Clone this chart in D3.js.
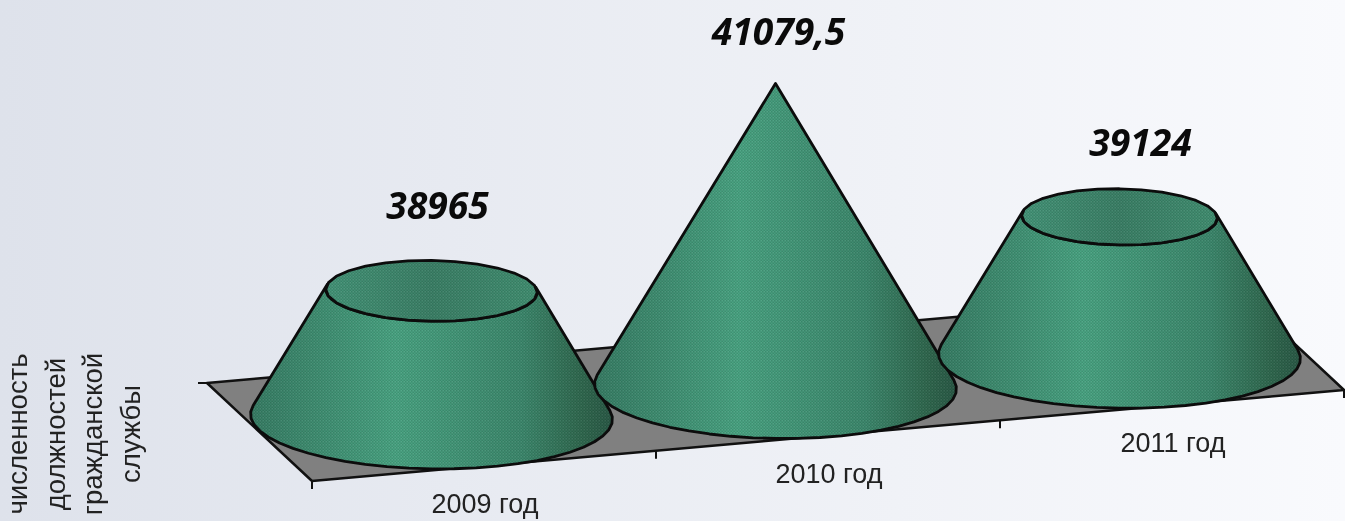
<!DOCTYPE html>
<html>
<head>
<meta charset="utf-8">
<script src="https://cdn.jsdelivr.net/npm/d3@7"></script>
<style>
  html, body { margin: 0; padding: 0; overflow: hidden; }
  svg { display: block; filter: blur(0.4px); }
</style>
</head>
<body>
<div id="chart"></div>
<script>
const categories = ["2009 год", "2010 год", "2011 год"];
const values = [38965, 41079.5, 39124];
const valueLabels = ["38965", "41079,5", "39124"];
const axisTitle = ["численность", "должностей", "гражданской", "службы"];

const width = 1345, height = 521;
const coneRx = 181, coneRy = 52;

// front edge of the floor and the direction going back into the picture
const front = { x0: 312, y0: 481, x1: 1344, y1: 390 };
const depth = { dx: -105, dy: -98 };

const x = d3.scaleBand().domain(categories).range([0, front.x1 - front.x0]);
// every cone runs from the axis minimum up to an apex at the axis maximum, lower values get cut off
const y = d3.scaleLinear().domain([37460, d3.max(values)]).range([0, 303]);

function project(u, d) {
    const t = u / (front.x1 - front.x0);
    return [
        front.x0 + (front.x1 - front.x0) * t + depth.dx * d,
        front.y0 + (front.y1 - front.y0) * t + depth.dy * d
    ];
}

const svg = d3.select("#chart").append("svg")
    .attr("width", width)
    .attr("height", height);

const defs = svg.append("defs");

function addGradient(id, stops) {
    const g = defs.append("linearGradient").attr("id", id);
    stops.forEach(s => g.append("stop").attr("offset", s[0]).attr("stop-color", s[1]));
}

addGradient("bg", [[0, "#dee2eb"], [1, "#f9fafd"]]);
addGradient("side", [[0, "#387f66"], [0.4, "#4aa684"], [0.75, "#3d8a6e"], [0.92, "#30694f"], [1, "#2a5a47"]]);
addGradient("cap", [[0, "#45977a"], [0.5, "#3c8268"], [1, "#429173"]]);

// the fine dotted screen on the cones
const dots = defs.append("pattern")
    .attr("id", "dots")
    .attr("width", 3)
    .attr("height", 3)
    .attr("patternUnits", "userSpaceOnUse");
dots.append("rect").attr("width", 1.5).attr("height", 1.5).attr("fill", "#000").attr("opacity", 0.13);
dots.append("rect").attr("x", 1.5).attr("y", 1.5).attr("width", 1.5).attr("height", 1.5).attr("fill", "#000").attr("opacity", 0.13);
dots.append("rect").attr("x", 1.5).attr("width", 1.5).attr("height", 1.5).attr("fill", "#fff").attr("opacity", 0.05);

svg.append("rect")
    .attr("width", width)
    .attr("height", height)
    .attr("fill", "url(#bg)");

// floor
const corners = [
    project(0, 0),
    project(x.range()[1], 0),
    project(x.range()[1], 1),
    project(0, 1)
];
svg.append("path")
    .attr("d", d3.line()(corners) + "Z")
    .attr("fill", "#808080")
    .attr("stroke", "#111")
    .attr("stroke-width", 2.5)
    .attr("stroke-linejoin", "round");

// ticks
const tickPos = categories.map(c => x(c)).concat([x.range()[1]]);
svg.selectAll(".tick")
    .data(tickPos)
    .enter().append("line")
    .attr("class", "tick")
    .attr("x1", d => project(d, 0)[0])
    .attr("x2", d => project(d, 0)[0])
    .attr("y1", d => project(d, 0)[1])
    .attr("y2", d => project(d, 0)[1] + 8)
    .attr("stroke", "#111")
    .attr("stroke-width", 2);
svg.append("line")
    .attr("x1", corners[3][0] - 9)
    .attr("x2", corners[3][0])
    .attr("y1", corners[3][1])
    .attr("y2", corners[3][1])
    .attr("stroke", "#111")
    .attr("stroke-width", 2);

// ellipse arc, slightly tilted like the floor plane in the picture
function arc(cx, cy, rx, ry, a0, a1, n) {
    return d3.range(n + 1).map(i => {
        const a = a0 + (a1 - a0) * i / n;
        return [cx + rx * Math.cos(a), cy + ry * Math.sin(a) + 0.014 * rx * Math.cos(a)];
    });
}

const line = d3.line();
const fullH = y.range()[1];
const tangent = Math.asin(coneRy / fullH);

const cones = svg.selectAll(".cone")
    .data(categories.map((c, i) => ({ c: c, v: values[i], label: valueLabels[i] })))
    .enter().append("g")
    .attr("class", "cone");

cones.each(function (d) {
    const g = d3.select(this);
    const [cx, cy] = project(x(d.c) + x.bandwidth() / 2, 0.5);
    const h = y(d.v);
    const k = 1 - h / fullH;
    const topY = cy - h;

    const base = arc(cx, cy, coneRx, coneRy, -tangent, Math.PI + tangent, 28);
    const top = arc(cx, topY, coneRx * k, coneRy * k, Math.PI + tangent, -tangent, 28);
    const side = line(base.concat(top)) + "Z";

    g.append("path").attr("d", side).attr("fill", "url(#side)");
    g.append("path").attr("d", side).attr("fill", "url(#dots)")
        .attr("stroke", "#0c0c0c").attr("stroke-width", 2.8).attr("stroke-linejoin", "round");

    if (k > 0.01) {
        const cap = line(arc(cx, topY, coneRx * k, coneRy * k, 0, 2 * Math.PI, 28)) + "Z";
        g.append("path").attr("d", cap).attr("fill", "url(#cap)");
        g.append("path").attr("d", cap).attr("fill", "url(#dots)")
            .attr("stroke", "#0c0c0c").attr("stroke-width", 2.8).attr("stroke-linejoin", "round");
    }
});

// value labels sit a little off the cone tops
const labelNudge = [[6, -41], [3, -39], [21, -33]];
cones.append("text")
    .attr("transform", (d, i) => {
        const [cx, cy] = project(x(d.c) + x.bandwidth() / 2, 0.5);
        const h = y(d.v);
        const ly = cy - h - coneRy * (1 - h / fullH) + labelNudge[i][1];
        return "translate(" + (cx + labelNudge[i][0]) + "," + ly + ") scale(0.98,1)";
    })
    .attr("text-anchor", "middle")
    .style("font-family", "'Open Sans', sans-serif")
    .style("font-weight", 700)
    .style("font-style", "italic")
    .style("font-size", "38px")
    .attr("fill", "#0a0a0a")
    .text(d => d.label);

// category labels
svg.selectAll(".cat")
    .data(categories)
    .enter().append("text")
    .attr("class", "cat")
    .attr("x", d => project(x(d) + x.bandwidth() / 2, 0)[0] + 1)
    .attr("y", d => project(x(d) + x.bandwidth() / 2, 0)[1] + 47)
    .attr("text-anchor", "middle")
    .style("font-family", "'Liberation Sans', Arial, sans-serif")
    .style("font-size", "27px")
    .attr("fill", "#222")
    .text(d => d);

// axis title, four rotated lines
svg.selectAll(".title")
    .data(axisTitle)
    .enter().append("text")
    .attr("class", "title")
    .attr("transform", (d, i) => "translate(" + (27 + i * 37.5) + ",434) rotate(-90)")
    .attr("text-anchor", "middle")
    .style("font-family", "'Liberation Sans', Arial, sans-serif")
    .style("font-size", "27.5px")
    .attr("fill", "#222")
    .text(d => d);
</script>
</body>
</html>
